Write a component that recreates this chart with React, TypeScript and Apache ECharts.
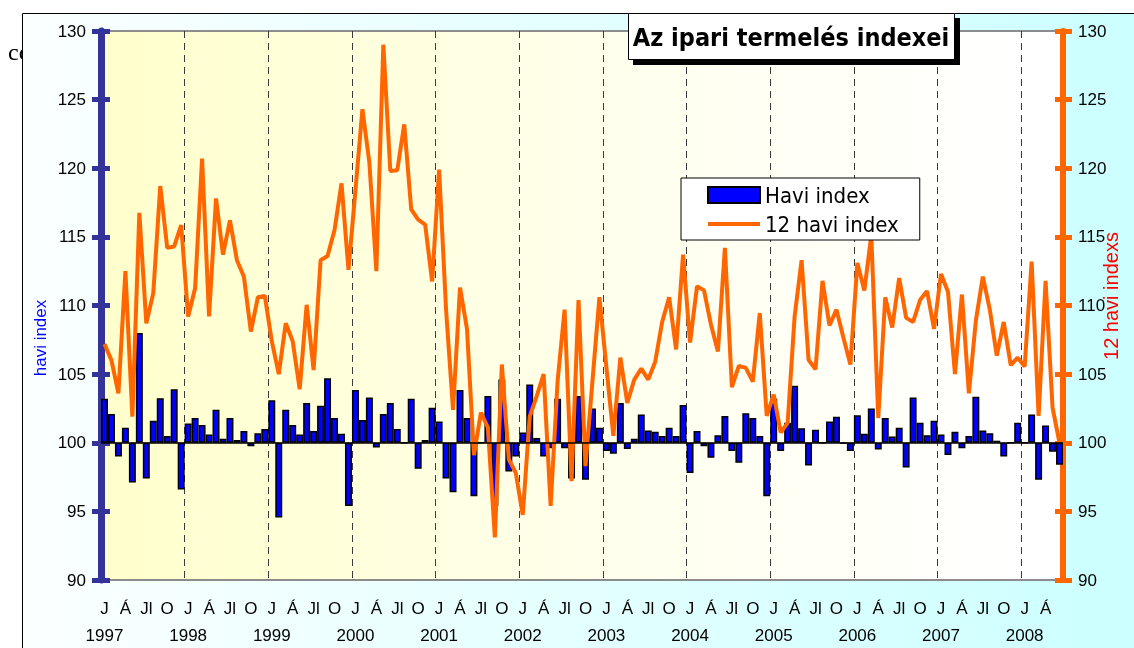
import React, { useEffect, useRef } from "react";
import * as echarts from "echarts";

// ---- data ----
const years = ["1997", "1998", "1999", "2000", "2001", "2002", "2003", "2004", "2005", "2006", "2007", "2008"];
const monthNames = ["J", "F", "M", "Á", "M", "J", "Jl", "A", "Sz", "O", "N", "D"];

// Havi index (monthly index, previous month = 100)
const haviIndex = [
  103.2, 102.1, 99.0, 101.1, 97.1, 108.0, 97.4, 101.6, 103.25, 100.5, 103.9, 96.6,
  101.4, 101.8, 101.3, 100.6, 102.4, 100.3, 101.8, 100.2, 100.85, 99.75, 100.7, 101.0,
  103.1, 94.55, 102.4, 101.3, 100.6, 102.9, 100.85, 102.7, 104.7, 101.8, 100.65, 95.4,
  103.85, 101.65, 103.3, 99.65, 102.1, 102.9, 101.0, 100.0, 103.2, 98.1, 100.2, 102.55,
  101.55, 97.4, 96.4, 103.85, 101.8, 96.1, 100.0, 103.4, 95.4, 104.6, 97.9, 99.0,
  100.75, 104.25, 100.35, 99.0, 99.6, 103.2, 99.6, 97.4, 103.4, 97.3, 102.5, 101.1,
  99.4, 99.2, 102.9, 99.55, 100.3, 102.05, 100.9, 100.8, 100.5, 101.1, 100.5, 102.75,
  97.8, 100.85, 99.75, 98.9, 100.55, 101.95, 99.4, 98.55, 102.15, 101.8, 100.5, 96.1,
  103.2, 99.4, 101.45, 104.15, 101.05, 98.35, 100.95, 100.0, 101.55, 101.9, 99.95, 99.4,
  102.0, 100.65, 102.5, 99.5, 101.8, 100.45, 101.1, 98.2, 103.3, 101.45, 100.55, 101.6,
  100.6, 99.1, 100.8, 99.6, 100.5, 103.35, 100.9, 100.7, 100.15, 99.0, 100.0, 101.45,
  100.0, 102.05, 97.3, 101.25, 99.35, 98.4,
];

// 12 havi index (same month of previous year = 100)
const havi12Index = [
  107.2, 106.0, 103.6, 112.5, 101.9, 116.75, 108.7, 110.9, 118.7, 114.2, 114.3, 115.85,
  109.2, 111.25, 120.7, 109.2, 117.8, 113.7, 116.2, 113.3, 112.1, 108.1, 110.6, 110.7,
  107.4, 105.0, 108.7, 107.4, 103.9, 110.05, 105.3, 113.3, 113.6, 115.5, 118.9, 112.6,
  118.4, 124.3, 120.4, 112.5, 129.0, 119.8, 119.85, 123.2, 117.0, 116.25, 115.9, 111.75,
  119.9, 109.7, 102.4, 111.3, 108.3, 99.1, 102.2, 101.1, 93.1, 105.7, 98.8, 97.8,
  94.75, 101.9, 103.4, 105.0, 95.4, 104.5, 109.7, 97.2, 110.4, 98.3, 104.5, 110.6,
  105.5, 100.5, 106.2, 102.9, 104.6, 105.4, 104.6, 105.9, 108.8, 110.6, 106.8, 113.7,
  107.3, 111.4, 111.1, 108.6, 106.65, 114.2, 104.05, 105.6, 105.45, 104.45, 109.45, 101.95,
  103.5, 100.75, 101.45, 109.2, 113.3, 106.05, 105.35, 111.8, 108.55, 109.7, 107.65, 105.7,
  113.1, 111.1, 115.1, 101.8, 110.6, 108.4, 112.0, 109.1, 108.8, 110.4, 111.05, 108.3,
  112.3, 111.0, 105.0, 110.8, 103.6, 108.9, 112.1, 109.7, 106.35, 108.8, 105.65, 106.2,
  105.55, 113.2, 101.95, 111.8, 102.55, 100.0,
];

const axisMin = 90;
const axisMax = 130;
const axisStep = 5;
const baseValue = 100;

const labelFont = "'Liberation Sans', Arial, sans-serif";
const boxFont = "'DejaVu Sans Condensed', 'DejaVu Sans', Verdana, sans-serif";

export default function App() {
  const ref = useRef<HTMLDivElement>(null);

  useEffect(() => {
    if (!ref.current) return;
    const chart = echarts.init(ref.current, undefined, { renderer: "svg" });

    const categories: string[] = [];
    years.forEach((y) => monthNames.forEach((m, i) => categories.push(`${y}|${i}|${m}`)));
    categories.length = haviIndex.length;

    const navy = "#333399";
    const orange = "#FF6600";

    const option: any = {
      animation: false,
      grid: {
        left: 101,
        right: 71,
        top: 31,
        bottom: 68,
        show: true,
        borderColor: "#8c8c8c",
        borderWidth: 2,
        backgroundColor: {
          type: "linear",
          x: 0,
          y: 0,
          x2: 1,
          y2: 0,
          colorStops: [
            { offset: 0, color: "#FFFFCC" },
            { offset: 0.55, color: "#FFFFEE" },
            { offset: 0.95, color: "#FFFFFF" },
            { offset: 1, color: "#FFFFFF" },
          ],
        },
      },
      legend: {
        orient: "vertical",
        left: 681,
        top: 178,
        padding: [6, 21, 5, 25],
        itemGap: 7,
        itemWidth: 52,
        itemHeight: 16,
        backgroundColor: "#ffffff",
        borderColor: "#000000",
        borderWidth: 1,
        borderRadius: 0,
        textStyle: { fontFamily: boxFont, fontSize: 22, color: "#000", lineHeight: 22 },
        data: [
          {
            name: "Havi index",
            icon: "rect",
            itemStyle: { color: "#0000FF", borderColor: "#000", borderWidth: 2 },
          },
          {
            name: "12 havi index",
            itemStyle: { opacity: 0 },
            lineStyle: { color: orange, width: 4 },
          },
        ],
      },
      xAxis: [
        {
          type: "category",
          data: categories,
          boundaryGap: true,
          axisLine: { show: false },
          axisTick: { show: false },
          axisLabel: {
            interval: 2,
            margin: 20,
            color: "#000",
            fontFamily: labelFont,
            fontSize: 17,
            formatter: (v: string) => v.split("|")[2],
          },
          splitLine: {
            show: true,
            interval: (idx: number) => idx > 0 && idx % 12 === 0,
            lineStyle: { color: "#3a3a3a", width: 1, type: [7, 5] },
          },
        },
        {
          type: "category",
          data: categories,
          boundaryGap: true,
          position: "bottom",
          axisLine: { show: false },
          axisTick: { show: false },
          splitLine: { show: false },
          axisLabel: {
            interval: 11,
            margin: 47,
            color: "#000",
            fontFamily: labelFont,
            fontSize: 17,
            formatter: (v: string) => v.split("|")[0],
          },
        },
      ],
      yAxis: [
        {
          type: "value",
          position: "left",
          min: axisMin,
          max: axisMax,
          interval: axisStep,
          axisLine: { show: true, lineStyle: { color: navy, width: 7 } },
          axisTick: { show: true, length: 9, lineStyle: { color: navy, width: 5 } },
          axisLabel: { margin: 15, color: "#000", fontFamily: labelFont, fontSize: 17 },
          splitLine: { show: false },
        },
        {
          type: "value",
          position: "right",
          min: axisMin,
          max: axisMax,
          interval: axisStep,
          axisLine: { show: true, lineStyle: { color: orange, width: 6 } },
          axisTick: { show: true, length: 9, lineStyle: { color: orange, width: 5 } },
          axisLabel: { margin: 15, color: "#000", fontFamily: labelFont, fontSize: 17 },
          splitLine: { show: false },
        },
        {
          type: "value",
          position: "left",
          min: axisMin - baseValue,
          max: axisMax - baseValue,
          show: false,
        },
        {
          type: "value",
          position: "left",
          min: axisMin,
          max: axisMax,
          interval: axisStep,
          axisLine: { show: false },
          axisLabel: { show: false },
          axisTick: { show: true, inside: true, length: 9, lineStyle: { color: navy, width: 5 } },
          splitLine: { show: false },
        },
        {
          type: "value",
          position: "right",
          min: axisMin,
          max: axisMax,
          interval: axisStep,
          axisLine: { show: false },
          axisLabel: { show: false },
          axisTick: { show: true, inside: true, length: 8, lineStyle: { color: orange, width: 5 } },
          splitLine: { show: false },
        },
      ],
      series: [
        {
          name: "Havi index",
          type: "bar",
          xAxisIndex: 0,
          yAxisIndex: 2,
          data: haviIndex.map((v) => Math.round((v - baseValue) * 100) / 100),
          barCategoryGap: "0%",
          itemStyle: { color: "#0000FF", borderColor: "#000000", borderWidth: 1.5 },
          markLine: {
            silent: true,
            symbol: "none",
            label: { show: false },
            lineStyle: { color: "#000", width: 1.5, type: "solid" },
            data: [{ yAxis: 0 }],
          },
        },
        {
          name: "12 havi index",
          type: "line",
          xAxisIndex: 0,
          yAxisIndex: 1,
          data: havi12Index,
          symbol: "none",
          lineStyle: { color: orange, width: 4, join: "bevel" },
          itemStyle: { color: orange },
          z: 3,
        },
      ],
      graphic: [
        {
          type: "text",
          z: -20,
          x: 8,
          y: 40,
          style: { text: "co", fontFamily: "'Liberation Serif', serif", fontSize: 24, fill: "#000" },
        },
        {
          type: "rect",
          z: -10,
          shape: { x: 22.5, y: 13.5, width: 1113, height: 636 },
          style: {
            fill: new echarts.graphic.LinearGradient(0, 0, 1, 0, [
              { offset: 0, color: "#FBFFFF" },
              { offset: 1, color: "#CCFFFF" },
            ]),
            stroke: "#000",
            lineWidth: 1,
          },
        },
        {
          type: "rect",
          z: 50,
          shape: { x: 633, y: 18, width: 327, height: 47 },
          style: { fill: "#000" },
        },
        {
          type: "rect",
          z: 51,
          shape: { x: 628.5, y: 13.5, width: 326, height: 46 },
          style: { fill: "#fff", stroke: "#000", lineWidth: 1 },
        },
        {
          type: "text",
          z: 52,
          x: 791,
          y: 37,
          style: {
            text: "Az ipari termelés indexei",
            fontFamily: boxFont,
            fontWeight: "bold",
            fontSize: 25,
            fill: "#000",
            align: "center",
            verticalAlign: "middle",
            textAlign: "center",
            textVerticalAlign: "middle",
          },
        },
        {
          type: "text",
          z: 20,
          x: 40,
          y: 338,
          rotation: Math.PI / 2,
          style: {
            text: "havi index",
            fontFamily: "'Liberation Sans', Arial, sans-serif",
            fontSize: 17,
            fill: "#0000FF",
            align: "center",
            verticalAlign: "middle",
            textAlign: "center",
            textVerticalAlign: "middle",
          },
        },
        {
          type: "text",
          z: 20,
          x: 1111,
          y: 296,
          rotation: Math.PI / 2,
          style: {
            text: "12 havi indexs",
            fontFamily: "'Liberation Sans', Arial, sans-serif",
            fontSize: 20,
            fill: "#FF0000",
            align: "center",
            verticalAlign: "middle",
            textAlign: "center",
            textVerticalAlign: "middle",
          },
        },
      ],
    };

    chart.setOption(option);
    return () => chart.dispose();
  }, []);

  return <div ref={ref} style={{ position: "fixed", left: 0, top: 0, width: 1134, height: 648 }} />;
}
